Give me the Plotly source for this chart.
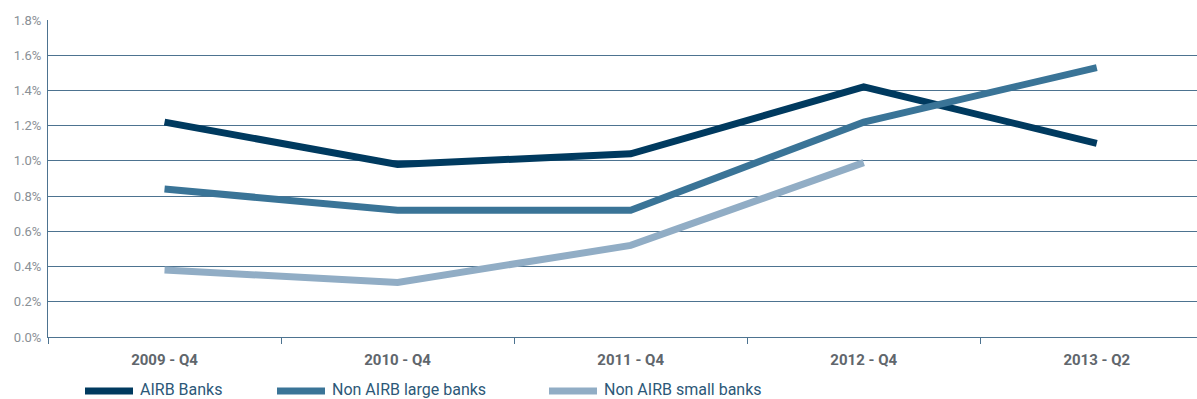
import plotly.graph_objects as go

categories = ["2009 - Q4", "2010 - Q4", "2011 - Q4", "2012 - Q4", "2013 - Q2"]
airb = [1.22, 0.98, 1.04, 1.42, 1.10]
non_airb_large = [0.84, 0.72, 0.72, 1.22, 1.53]
non_airb_small = [0.38, 0.31, 0.52, 0.99, None]
series_names = ["AIRB Banks", "Non AIRB large banks", "Non AIRB small banks"]
colors = ["#003a5f", "#3a7497", "#91adc5"]
y_ticks = [0.0, 0.2, 0.4, 0.6, 0.8, 1.0, 1.2, 1.4, 1.6, 1.8]

fig = go.Figure()
for name, vals, col in zip(series_names, [airb, non_airb_large, non_airb_small], colors):
    fig.add_trace(go.Scatter(x=categories, y=vals, name=name, mode="lines",
                             line=dict(color=col, width=7), showlegend=False,
                             connectgaps=False))

grid_col = "#4d7390"
fig.update_layout(
    width=1197, height=399,
    margin=dict(l=48, r=0, t=20, b=62),
    plot_bgcolor="white", paper_bgcolor="white",
    font=dict(family="Roboto", color="#777"),
    xaxis=dict(type="category", range=[-0.5, 4.43], showgrid=False,
               showline=True, linecolor=grid_col, linewidth=1,
               ticks="outside", tickson="boundaries", ticklen=6, tickcolor=grid_col,
               tickfont=dict(size=15, color="#60666c", family="Roboto", weight="bold"),
               ticklabelstandoff=9),
    yaxis=dict(range=[0, 1.8], tickvals=y_ticks,
               ticktext=[f"{v:.1f}%" for v in y_ticks],
               showgrid=True, gridcolor=grid_col, gridwidth=1,
               showline=True, linecolor=grid_col, linewidth=1,
               zeroline=False, ticklabelstandoff=3,
               tickfont=dict(size=13, color="#8a9096", family="Roboto")),
)

# Manual legend at bottom
legend_x = [85, 277, 549]
for name, col, lx in zip(series_names, colors, legend_x):
    fig.add_shape(type="line", xref="paper", yref="paper",
                  x0=(lx - 48) / 1149, x1=(lx + 48 - 48) / 1149,
                  y0=-(391 - 337) / 317, y1=-(391 - 337) / 317,
                  line=dict(color=col, width=7))
    fig.add_annotation(xref="paper", yref="paper", x=(lx + 53 - 48) / 1149,
                       y=-(389 - 337) / 317, text=name, showarrow=False,
                       xanchor="left", yanchor="middle",
                       font=dict(size=16, color="#2c5878", family="Roboto"))

fig.write_html("out.html")
